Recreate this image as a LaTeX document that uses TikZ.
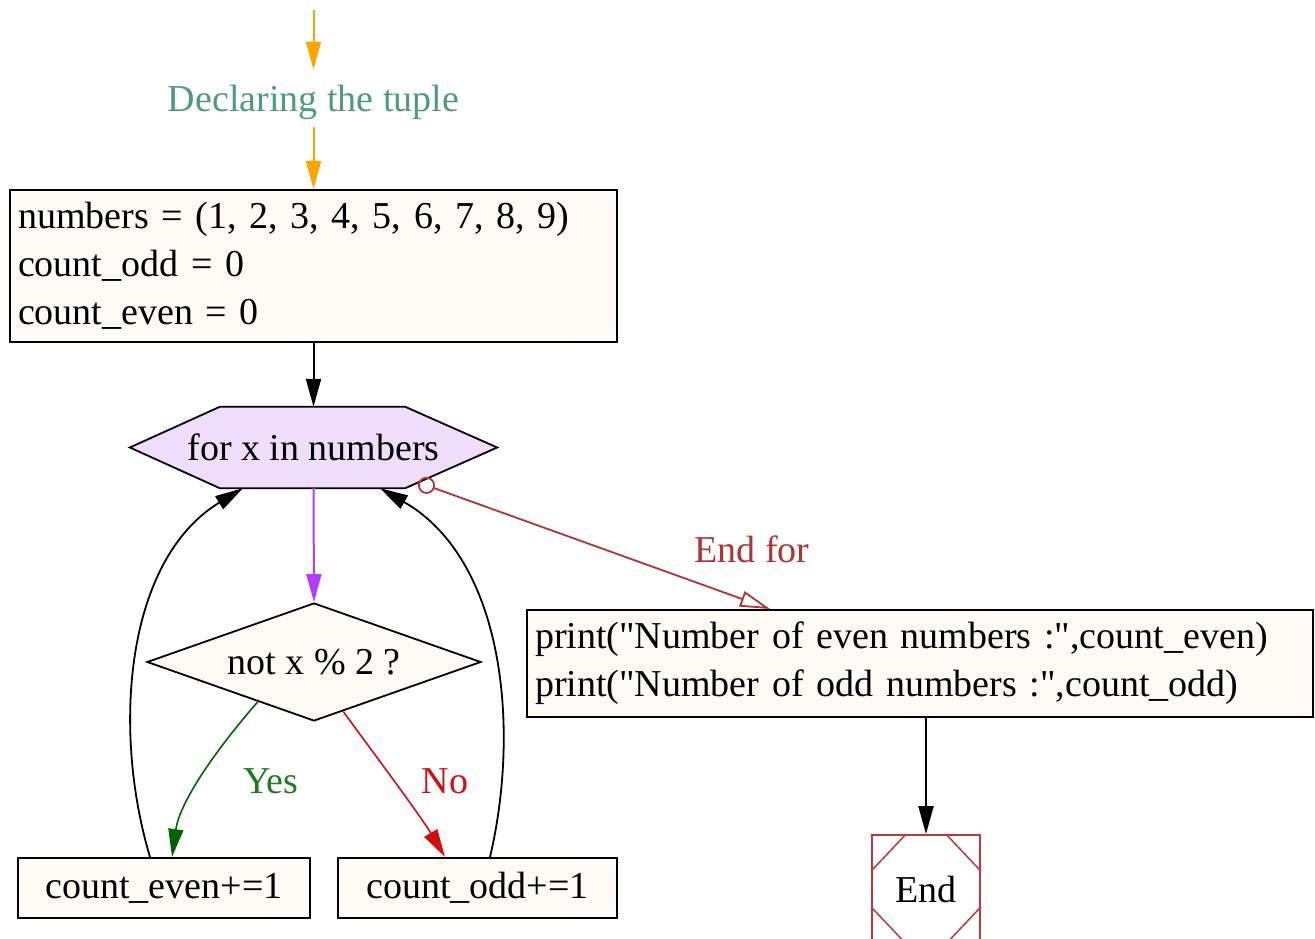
\documentclass[tikz,border=0pt]{standalone}
\usepackage{fontspec}
\setmainfont{Liberation Serif}[Ligatures=TeXOff]
\usetikzlibrary{arrows.meta,shapes.geometric,calc}
\pgfdeclarelayer{bg}
\pgfsetlayers{bg,main}
\definecolor{cream}{HTML}{FFFAF4}
\definecolor{lav}{HTML}{EFDDFB}
\definecolor{orng}{HTML}{FFA500}
\definecolor{purp}{HTML}{B53CFF}
\definecolor{declc}{HTML}{4C9C7C}
\definecolor{yesc}{HTML}{1E7B1E}
\definecolor{yesa}{HTML}{006400}
\definecolor{noc}{HTML}{D01010}
\definecolor{endforc}{HTML}{B03434}
\definecolor{endc}{HTML}{B83A3A}
\tikzset{
  codebox/.style={draw=black, line width=2pt, fill=cream, align=left, inner xsep=8pt, inner ysep=0pt},
  smallbox/.style={draw=black, line width=2pt, fill=cream, inner sep=0pt},
  headtip/.style={-{Triangle[length=28pt,width=15pt]}},
  blackarrow/.style={headtip, draw=black, line width=2pt},
  orangearrow/.style={headtip, draw=orng, line width=2pt},
  lbl/.style={inner sep=0pt}
}
\begin{document}
\begin{tikzpicture}[x=1pt,y=-1pt, font=\fontsize{38}{48}\selectfont]
\useasboundingbox (0,0) rectangle (1315,939);

% nodes
\coordinate (src) at (313.5,10);
\node[lbl, text=declc, inner sep=4pt] (decl) at (313.5,102) {Declaring the tuple};
\node[codebox, minimum width=607pt, minimum height=152pt, text width=591pt] (init) at (313.5,266)
  {numbers = (1, 2, 3, 4, 5, 6, 7, 8, 9)\\count\_odd = 0\\count\_even = 0};
\node[inner sep=0pt, minimum width=367pt, minimum height=81pt] (hex) at (313.5,447.5) {for x in numbers};
\begin{pgfonlayer}{bg}
\draw[fill=lav, line width=1.8pt] (hex.west) -- ([xshift=90pt]hex.north west) -- ([xshift=-92pt]hex.north east)
  -- (hex.east) -- ([xshift=-92pt]hex.south east) -- ([xshift=90pt]hex.south west) -- cycle;
\end{pgfonlayer}
\node[diamond, draw=black, line width=1.8pt, fill=cream, inner sep=0pt, aspect=2.83,
      minimum width=334pt, minimum height=118pt] (dia) at (314,662) {not x \% 2 ?};
\node[smallbox, minimum width=292pt, minimum height=60pt] (ceven) at (164,888) {count\_even+=1};
\node[smallbox, minimum width=279pt, minimum height=60pt] (codd) at (477.5,888) {count\_odd+=1};
\node[codebox, minimum width=786pt, minimum height=107pt, text width=770pt] (pr) at (920,663.5)
  {print("Number of even numbers :",count\_even)\\print("Number of odd numbers :",count\_odd)};
\node[draw=endc, line width=1.8pt, fill=white, minimum width=108pt, minimum height=108pt, inner sep=0pt] (endn) at (926,889) {End};
\draw[endc, line width=1.5pt] ([xshift=35pt]endn.north west) -- ([yshift=-37pt]endn.north west);
\draw[endc, line width=1.5pt] ([xshift=-35pt]endn.north east) -- ([yshift=-37pt]endn.north east);
\draw[endc, line width=1.5pt] ([xshift=35pt]endn.south west) -- ([yshift=37pt]endn.south west);
\draw[endc, line width=1.5pt] ([xshift=-35pt]endn.south east) -- ([yshift=37pt]endn.south east);

\node[lbl, text=yesc] (yes) at (271,781) {Yes};
\node[lbl, text=noc] (no) at (445,781) {No};
\node[lbl, text=endforc] (endfor) at (752,549) {End for};

% connectors
\draw[orangearrow, shorten >=11pt] (src) -- (decl.north);
\draw[orangearrow, shorten <=4pt] (decl.south) -- (init.north);
\draw[blackarrow] (init.south) -- (hex.north);
\draw[headtip, draw=purp, fill=purp, line width=2pt] (hex.south) -- (dia.north);
\draw[headtip, draw=yesa, line width=1.6pt]
  ($(dia.west)!0.665!(dia.south)$) .. controls (220,745) and (180,800) .. ([xshift=8pt]ceven.north);
\draw[headtip, draw=noc, line width=1.6pt]
  ($(dia.south)!0.174!(dia.east)$) .. controls (375,755) and (420,815) .. ([xshift=-32.5pt]codd.north);
\draw[blackarrow, line width=1.8pt] ([xshift=-14pt]ceven.north) .. controls (112,730) and (125,560) .. ([xshift=-70.5pt]hex.south);
\draw[blackarrow, line width=1.8pt] ([xshift=12.5pt]codd.north) .. controls (520,730) and (505,560) .. ([xshift=66.5pt]hex.south);
\draw[{Circle[open,length=17pt]}-{Triangle[open,length=30pt,width=16pt]}, draw=endforc, line width=1.8pt]
  ([xshift=105pt,yshift=-35pt]hex.center) -- ([xshift=-150pt]pr.north);
\draw[blackarrow] (pr.south -| endn.north) -- (endn.north);
\end{tikzpicture}
\end{document}
